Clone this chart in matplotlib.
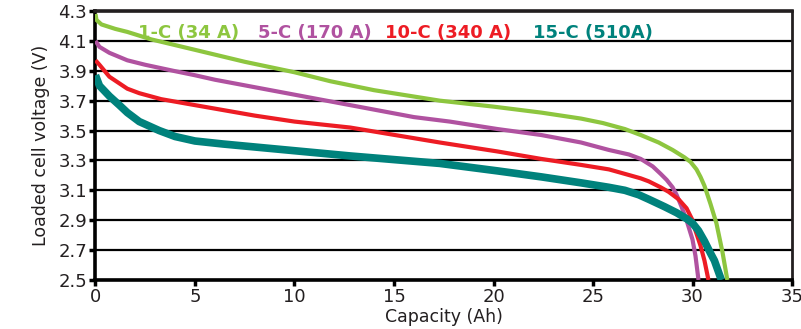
import matplotlib
matplotlib.use("Agg")
import matplotlib.pyplot as plt

# Discharge curves of a cell at four discharge rates
labels = ["1-C (34 A)", "5-C (170 A)", "10-C (340 A)", "15-C (510A)"]
colors = ["#8dc63f", "#b052a0", "#ed1c24", "#00827c"]

cap_1c = [0, 0.05, 0.3, 1, 1.6, 2.8, 5, 7.5, 10, 11.8, 14, 17.3, 20, 22.4,
          24.4, 25.5, 26.6, 27.4, 28.3, 29, 29.6, 29.9, 30.2, 30.4, 30.6, 30.9,
          31.2, 31.5, 31.75]
v_1c = [4.28, 4.24, 4.21, 4.18, 4.16, 4.11, 4.04, 3.96, 3.89, 3.83, 3.77, 3.70,
        3.66, 3.62, 3.58, 3.55, 3.51, 3.47, 3.42, 3.37, 3.32, 3.29, 3.24, 3.19,
        3.13, 3.01, 2.88, 2.69, 2.50]

cap_5c = [0, 0.2, 0.7, 1.6, 2.5, 3.9, 5, 6, 8, 10, 12.8, 14, 16, 17.8, 20.2,
          22.4, 24.4, 25.8, 26.8, 27.4, 28.0, 28.4, 28.7, 29.0, 29.2, 29.45,
          29.7, 30.0, 30.15, 30.3]
v_5c = [4.10, 4.06, 4.02, 3.97, 3.94, 3.90, 3.87, 3.84, 3.79, 3.74, 3.67, 3.64,
        3.59, 3.56, 3.51, 3.47, 3.42, 3.37, 3.34, 3.31, 3.26, 3.21, 3.17, 3.12,
        3.07, 2.99, 2.90, 2.77, 2.66, 2.50]

cap_10c = [0, 0.2, 0.7, 1.6, 2.2, 3.3, 5, 8, 10, 12.8, 17.3, 20.2, 22.4, 24.4,
           25.8, 27.4, 27.8, 28.4, 28.8, 29.3, 29.7, 30.0, 30.15, 30.4, 30.6,
           30.8]
v_10c = [3.97, 3.94, 3.86, 3.78, 3.75, 3.71, 3.67, 3.60, 3.56, 3.52, 3.42, 3.36,
         3.31, 3.27, 3.24, 3.18, 3.16, 3.12, 3.09, 3.04, 2.98, 2.90, 2.83, 2.73,
         2.63, 2.50]

cap_15c = [0, 0.2, 0.7, 1.2, 1.6, 2.2, 3.2, 4, 5, 6.4, 8, 12.8, 17.3, 20.2,
           22.4, 24.4, 25.8, 26.6, 27.3, 27.8, 28.6, 29.2, 29.7, 30.0, 30.3,
           30.6, 30.9, 31.1, 31.45]
v_15c = [3.87, 3.80, 3.73, 3.67, 3.62, 3.56, 3.50, 3.46, 3.43, 3.41, 3.39, 3.33,
         3.28, 3.23, 3.19, 3.15, 3.12, 3.10, 3.07, 3.04, 2.99, 2.95, 2.91, 2.88,
         2.83, 2.76, 2.68, 2.63, 2.50]

x_ticks = [0, 5, 10, 15, 20, 25, 30, 35]
y_ticks = [2.5, 2.7, 2.9, 3.1, 3.3, 3.5, 3.7, 3.9, 4.1, 4.3]

series = [(cap_1c, v_1c, 3.0), (cap_5c, v_5c, 3.0),
          (cap_10c, v_10c, 3.0), (cap_15c, v_15c, 5.5)]

text_col = "#231f20"
fig = plt.figure(figsize=(8.01, 3.29), dpi=100)
ax = fig.add_axes([0.1192, 0.149, 0.8696, 0.8176])

for (cx, vy, lw), col in zip(series, colors):
    ax.plot(cx, vy, color=col, lw=lw, solid_capstyle="butt",
            solid_joinstyle="round", zorder=3)

ax.set_xlim(0, 35)
ax.set_ylim(2.5, 4.3)
ax.set_xticks(x_ticks)
ax.set_yticks(y_ticks)
ax.set_yticklabels([f"{v:.1f}" for v in y_ticks])
ax.grid(axis="y", color="black", lw=1.6, zorder=1)
ax.tick_params(axis="both", direction="out", length=4, width=2.5,
               color="black", labelsize=13, labelcolor=text_col, pad=2)

for side in ["left", "bottom"]:
    ax.spines[side].set_linewidth(2.6)
    ax.spines[side].set_color("black")
ax.spines["top"].set_linewidth(2.6)
ax.spines["top"].set_color(text_col)
ax.spines["right"].set_linewidth(2)
ax.spines["right"].set_color(text_col)

ax.set_xlabel("Capacity (Ah)", fontsize=12.5, color=text_col, labelpad=1)
ax.set_ylabel("Loaded cell voltage (V)", fontsize=12.5, color=text_col,
              labelpad=6)

# Series names written across the top band of the plot
label_x = [138, 258, 385, 533]
for lx, lab, col in zip(label_x, labels, colors):
    ax.text((lx - 95.5) / 697.0, 0.917, lab, transform=ax.transAxes,
            color=col, fontsize=13, fontweight="bold", ha="left",
            va="center", zorder=4)

fig.savefig("out.png", dpi=100)
